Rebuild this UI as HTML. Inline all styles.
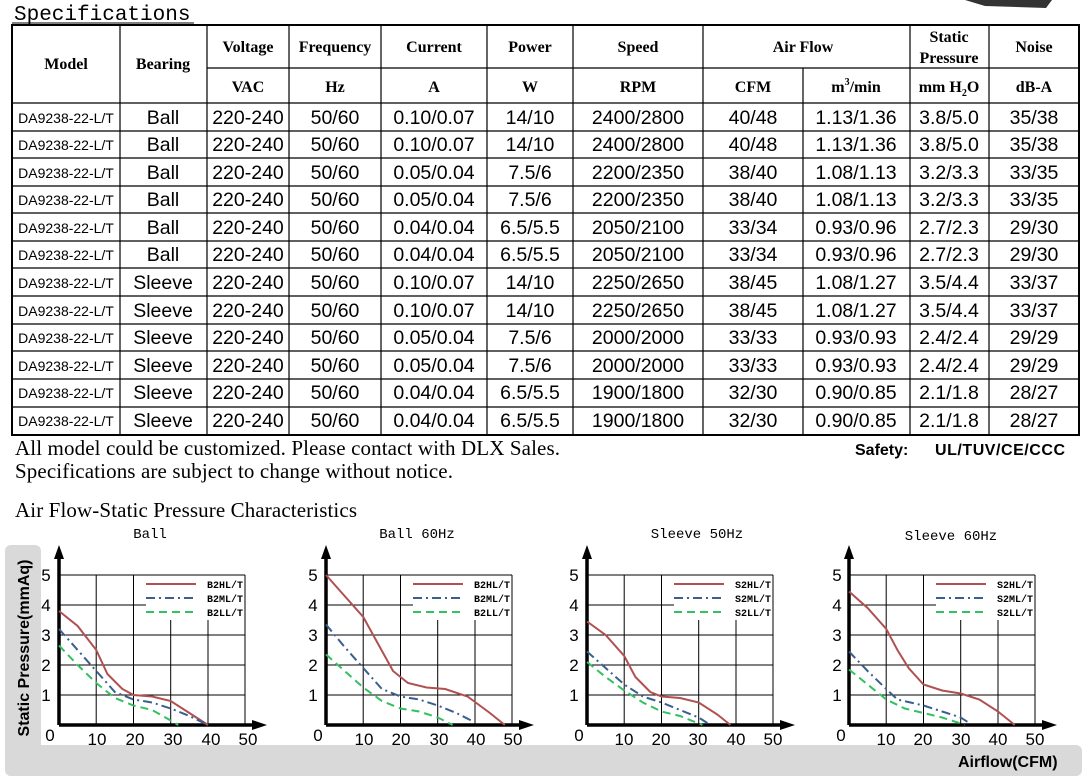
<!DOCTYPE html>
<html><head><meta charset="utf-8"><style>
html,body{margin:0;padding:0;background:#fff;}
svg{display:block;}
.h{font-family:"Liberation Serif",serif;font-weight:bold;font-size:16px;text-anchor:middle;}
.d{font-family:"Liberation Sans",sans-serif;font-size:19.5px;text-anchor:middle;}
.m{font-family:"Liberation Sans",sans-serif;font-size:14px;text-anchor:middle;}
.tk{font-family:"Liberation Sans",sans-serif;font-size:17px;text-anchor:middle;}
.lg{font-family:"Liberation Mono",monospace;font-weight:bold;font-size:10px;}
.ct{font-family:"Liberation Mono",monospace;font-size:14px;text-anchor:middle;}
</style></head><body>
<svg width="1088" height="782" viewBox="0 0 1088 782" xmlns="http://www.w3.org/2000/svg">
<polygon points="965,0 1052,0 1046,8 985,6" fill="#333"/>
<text x="14" y="20" font-family="Liberation Mono,monospace" font-size="21">Specifications</text>
<line x1="12" y1="23" x2="194" y2="23" stroke="#000" stroke-width="1"/>
<g stroke="#000" stroke-width="1.2" fill="none">
<rect x="12" y="25" width="1067" height="410" stroke-width="2"/>
<line x1="207" y1="68" x2="1079" y2="68"/>
<line x1="12" y1="103" x2="1079" y2="103"/>
<line x1="12" y1="131" x2="1079" y2="131"/><line x1="12" y1="158" x2="1079" y2="158"/>
<line x1="12" y1="186" x2="1079" y2="186"/><line x1="12" y1="213" x2="1079" y2="213"/>
<line x1="12" y1="241" x2="1079" y2="241"/><line x1="12" y1="268" x2="1079" y2="268"/>
<line x1="12" y1="296" x2="1079" y2="296"/><line x1="12" y1="324" x2="1079" y2="324"/>
<line x1="12" y1="351" x2="1079" y2="351"/><line x1="12" y1="379" x2="1079" y2="379"/>
<line x1="12" y1="407" x2="1079" y2="407"/>
<line x1="120" y1="25" x2="120" y2="435"/><line x1="207" y1="25" x2="207" y2="435"/>
<line x1="289" y1="25" x2="289" y2="435"/><line x1="381" y1="25" x2="381" y2="435"/>
<line x1="487" y1="25" x2="487" y2="435"/><line x1="573" y1="25" x2="573" y2="435"/>
<line x1="703" y1="25" x2="703" y2="435"/><line x1="803" y1="68" x2="803" y2="435"/>
<line x1="910" y1="25" x2="910" y2="435"/><line x1="989" y1="25" x2="989" y2="435"/>
</g>
<text class="h" x="66" y="69">Model</text><text class="h" x="163" y="69">Bearing</text>
<text class="h" x="248" y="52">Voltage</text><text class="h" x="335" y="52">Frequency</text>
<text class="h" x="434" y="52">Current</text><text class="h" x="530" y="52">Power</text>
<text class="h" x="638" y="52">Speed</text><text class="h" x="803" y="52">Air Flow</text>
<text class="h" x="949" y="42">Static</text><text class="h" x="949" y="63">Pressure</text>
<text class="h" x="1034" y="52">Noise</text>
<text class="h" x="248" y="92">VAC</text><text class="h" x="335" y="92">Hz</text>
<text class="h" x="434" y="92">A</text><text class="h" x="530" y="92">W</text>
<text class="h" x="638" y="92">RPM</text><text class="h" x="753" y="92">CFM</text>
<text class="h" x="856" y="92">m<tspan font-size="10" dy="-7">3</tspan><tspan dy="7">/min</tspan></text>
<text class="h" x="949" y="92">mm H<tspan font-size="10" dy="4">2</tspan><tspan dy="-4">O</tspan></text>
<text class="h" x="1034" y="92">dB-A</text>
<g>
<text class="m" x="66" y="123">DA9238-22-L/T</text><text class="d" x="163" y="124">Ball</text><text class="d" x="248" y="124">220-240</text><text class="d" x="335" y="124">50/60</text><text class="d" x="434" y="124">0.10/0.07</text><text class="d" x="530" y="124">14/10</text><text class="d" x="638" y="124">2400/2800</text><text class="d" x="753" y="124">40/48</text><text class="d" x="856" y="124">1.13/1.36</text><text class="d" x="949" y="124">3.8/5.0</text><text class="d" x="1034" y="124">35/38</text>
<text class="m" x="66" y="150">DA9238-22-L/T</text><text class="d" x="163" y="151">Ball</text><text class="d" x="248" y="151">220-240</text><text class="d" x="335" y="151">50/60</text><text class="d" x="434" y="151">0.10/0.07</text><text class="d" x="530" y="151">14/10</text><text class="d" x="638" y="151">2400/2800</text><text class="d" x="753" y="151">40/48</text><text class="d" x="856" y="151">1.13/1.36</text><text class="d" x="949" y="151">3.8/5.0</text><text class="d" x="1034" y="151">35/38</text>
<text class="m" x="66" y="178">DA9238-22-L/T</text><text class="d" x="163" y="179">Ball</text><text class="d" x="248" y="179">220-240</text><text class="d" x="335" y="179">50/60</text><text class="d" x="434" y="179">0.05/0.04</text><text class="d" x="530" y="179">7.5/6</text><text class="d" x="638" y="179">2200/2350</text><text class="d" x="753" y="179">38/40</text><text class="d" x="856" y="179">1.08/1.13</text><text class="d" x="949" y="179">3.2/3.3</text><text class="d" x="1034" y="179">33/35</text>
<text class="m" x="66" y="205">DA9238-22-L/T</text><text class="d" x="163" y="206">Ball</text><text class="d" x="248" y="206">220-240</text><text class="d" x="335" y="206">50/60</text><text class="d" x="434" y="206">0.05/0.04</text><text class="d" x="530" y="206">7.5/6</text><text class="d" x="638" y="206">2200/2350</text><text class="d" x="753" y="206">38/40</text><text class="d" x="856" y="206">1.08/1.13</text><text class="d" x="949" y="206">3.2/3.3</text><text class="d" x="1034" y="206">33/35</text>
<text class="m" x="66" y="233">DA9238-22-L/T</text><text class="d" x="163" y="234">Ball</text><text class="d" x="248" y="234">220-240</text><text class="d" x="335" y="234">50/60</text><text class="d" x="434" y="234">0.04/0.04</text><text class="d" x="530" y="234">6.5/5.5</text><text class="d" x="638" y="234">2050/2100</text><text class="d" x="753" y="234">33/34</text><text class="d" x="856" y="234">0.93/0.96</text><text class="d" x="949" y="234">2.7/2.3</text><text class="d" x="1034" y="234">29/30</text>
<text class="m" x="66" y="260">DA9238-22-L/T</text><text class="d" x="163" y="261">Ball</text><text class="d" x="248" y="261">220-240</text><text class="d" x="335" y="261">50/60</text><text class="d" x="434" y="261">0.04/0.04</text><text class="d" x="530" y="261">6.5/5.5</text><text class="d" x="638" y="261">2050/2100</text><text class="d" x="753" y="261">33/34</text><text class="d" x="856" y="261">0.93/0.96</text><text class="d" x="949" y="261">2.7/2.3</text><text class="d" x="1034" y="261">29/30</text>
<text class="m" x="66" y="288">DA9238-22-L/T</text><text class="d" x="163" y="289">Sleeve</text><text class="d" x="248" y="289">220-240</text><text class="d" x="335" y="289">50/60</text><text class="d" x="434" y="289">0.10/0.07</text><text class="d" x="530" y="289">14/10</text><text class="d" x="638" y="289">2250/2650</text><text class="d" x="753" y="289">38/45</text><text class="d" x="856" y="289">1.08/1.27</text><text class="d" x="949" y="289">3.5/4.4</text><text class="d" x="1034" y="289">33/37</text>
<text class="m" x="66" y="316">DA9238-22-L/T</text><text class="d" x="163" y="317">Sleeve</text><text class="d" x="248" y="317">220-240</text><text class="d" x="335" y="317">50/60</text><text class="d" x="434" y="317">0.10/0.07</text><text class="d" x="530" y="317">14/10</text><text class="d" x="638" y="317">2250/2650</text><text class="d" x="753" y="317">38/45</text><text class="d" x="856" y="317">1.08/1.27</text><text class="d" x="949" y="317">3.5/4.4</text><text class="d" x="1034" y="317">33/37</text>
<text class="m" x="66" y="343">DA9238-22-L/T</text><text class="d" x="163" y="344">Sleeve</text><text class="d" x="248" y="344">220-240</text><text class="d" x="335" y="344">50/60</text><text class="d" x="434" y="344">0.05/0.04</text><text class="d" x="530" y="344">7.5/6</text><text class="d" x="638" y="344">2000/2000</text><text class="d" x="753" y="344">33/33</text><text class="d" x="856" y="344">0.93/0.93</text><text class="d" x="949" y="344">2.4/2.4</text><text class="d" x="1034" y="344">29/29</text>
<text class="m" x="66" y="371">DA9238-22-L/T</text><text class="d" x="163" y="372">Sleeve</text><text class="d" x="248" y="372">220-240</text><text class="d" x="335" y="372">50/60</text><text class="d" x="434" y="372">0.05/0.04</text><text class="d" x="530" y="372">7.5/6</text><text class="d" x="638" y="372">2000/2000</text><text class="d" x="753" y="372">33/33</text><text class="d" x="856" y="372">0.93/0.93</text><text class="d" x="949" y="372">2.4/2.4</text><text class="d" x="1034" y="372">29/29</text>
<text class="m" x="66" y="398">DA9238-22-L/T</text><text class="d" x="163" y="399">Sleeve</text><text class="d" x="248" y="399">220-240</text><text class="d" x="335" y="399">50/60</text><text class="d" x="434" y="399">0.04/0.04</text><text class="d" x="530" y="399">6.5/5.5</text><text class="d" x="638" y="399">1900/1800</text><text class="d" x="753" y="399">32/30</text><text class="d" x="856" y="399">0.90/0.85</text><text class="d" x="949" y="399">2.1/1.8</text><text class="d" x="1034" y="399">28/27</text>
<text class="m" x="66" y="426">DA9238-22-L/T</text><text class="d" x="163" y="427">Sleeve</text><text class="d" x="248" y="427">220-240</text><text class="d" x="335" y="427">50/60</text><text class="d" x="434" y="427">0.04/0.04</text><text class="d" x="530" y="427">6.5/5.5</text><text class="d" x="638" y="427">1900/1800</text><text class="d" x="753" y="427">32/30</text><text class="d" x="856" y="427">0.90/0.85</text><text class="d" x="949" y="427">2.1/1.8</text><text class="d" x="1034" y="427">28/27</text>
</g>
<text x="15" y="455" font-family="Liberation Serif,serif" font-size="21" textLength="545">All model could be customized. Please contact with DLX Sales.</text>
<text x="15" y="478" font-family="Liberation Serif,serif" font-size="21" textLength="438">Specifications are subject to change without notice.</text>
<text x="855" y="455" font-family="Liberation Sans,sans-serif" font-weight="bold" font-size="16">Safety:</text>
<text x="935" y="455" font-family="Liberation Sans,sans-serif" font-weight="bold" font-size="16" textLength="130">UL/TUV/CE/CCC</text>
<text x="15" y="517" font-family="Liberation Serif,serif" font-size="21" textLength="342">Air Flow-Static Pressure Characteristics</text>
<rect x="5" y="545" width="36" height="231" rx="6" fill="#d9d9d9"/>
<rect x="5" y="745" width="1077" height="31" rx="6" fill="#d9d9d9"/>
<text transform="translate(29,648) rotate(-90)" text-anchor="middle" font-family="Liberation Sans,sans-serif" font-weight="bold" font-size="16">Static Pressure(mmAq)</text>
<text x="958" y="767" font-family="Liberation Sans,sans-serif" font-weight="bold" font-size="16">Airflow(CFM)</text>
<text class="ct" x="150" y="538">Ball</text><text class="ct" x="417" y="538">Ball 60Hz</text>
<text class="ct" x="697" y="538">Sleeve 50Hz</text><text class="ct" x="951" y="540">Sleeve 60Hz</text>
<defs>
<g id="grid">
<g stroke="#000" stroke-width="1" fill="none">
<line x1="0" y1="-150" x2="186" y2="-150"/><line x1="0" y1="-120" x2="87" y2="-120"/>
<line x1="0" y1="-90" x2="186" y2="-90"/><line x1="0" y1="-60" x2="186" y2="-60"/><line x1="0" y1="-30" x2="186" y2="-30"/>
<line x1="37.2" y1="-150" x2="37.2" y2="0"/><line x1="74.5" y1="-150" x2="74.5" y2="0"/>
<line x1="111.7" y1="-105" x2="111.7" y2="0"/><line x1="149" y1="-105" x2="149" y2="0"/>
<line x1="186" y1="-150" x2="186" y2="0"/>
</g>
<g stroke="#000" stroke-width="3.5"><line x1="0" y1="0" x2="0" y2="-168"/><line x1="0" y1="0" x2="195" y2="0"/></g>
<polygon points="-5,-166 5,-166 0,-180" fill="#000"/><polygon points="193,-5 193,5 208,0" fill="#000"/>
<line x1="87" y1="-141" x2="137" y2="-141" stroke="#b05050" stroke-width="2"/>
<line x1="87" y1="-127" x2="137" y2="-127" stroke="#3a5f8f" stroke-width="2" stroke-dasharray="9,4,2,4"/>
<line x1="87" y1="-113" x2="137" y2="-113" stroke="#33c060" stroke-width="2" stroke-dasharray="8,5"/>
</g>
</defs>
<g class="tk">
<text x="46" y="581">5</text><text x="46" y="611">4</text><text x="46" y="641">3</text><text x="46" y="671">2</text><text x="46" y="701">1</text><text x="50" y="741">0</text>
<text x="97" y="745">10</text><text x="135" y="745">20</text><text x="173" y="745">30</text><text x="211" y="745">40</text><text x="248" y="745">50</text>
<text x="313" y="581">5</text><text x="313" y="611">4</text><text x="313" y="641">3</text><text x="313" y="671">2</text><text x="313" y="701">1</text><text x="318" y="741">0</text>
<text x="364" y="745">10</text><text x="401" y="745">20</text><text x="439" y="745">30</text><text x="476" y="745">40</text><text x="513" y="745">50</text>
<text x="574" y="581">5</text><text x="574" y="611">4</text><text x="574" y="641">3</text><text x="574" y="671">2</text><text x="574" y="701">1</text><text x="579" y="741">0</text>
<text x="624" y="745">10</text><text x="661" y="745">20</text><text x="698" y="745">30</text><text x="736" y="745">40</text><text x="773" y="745">50</text>
<text x="837" y="581">5</text><text x="837" y="611">4</text><text x="837" y="641">3</text><text x="837" y="671">2</text><text x="837" y="701">1</text><text x="841" y="741">0</text>
<text x="886" y="745">10</text><text x="923" y="745">20</text><text x="961" y="745">30</text><text x="998" y="745">40</text><text x="1035" y="745">50</text>
</g>
<use href="#grid" x="59" y="725"/><use href="#grid" x="326" y="725"/><use href="#grid" x="587" y="725"/><use href="#grid" x="849" y="725"/>
<g class="lg">
<text x="207" y="588">B2HL/T</text><text x="207" y="602">B2ML/T</text><text x="207" y="616">B2LL/T</text>
<text x="474" y="588">B2HL/T</text><text x="474" y="602">B2ML/T</text><text x="474" y="616">B2LL/T</text>
<text x="735" y="588">S2HL/T</text><text x="735" y="602">S2ML/T</text><text x="735" y="616">S2LL/T</text>
<text x="997" y="588">S2HL/T</text><text x="997" y="602">S2ML/T</text><text x="997" y="616">S2LL/T</text>
</g>
<g fill="none" stroke-width="2">
<g transform="translate(59,725) scale(3.725,-30)">
<polyline vector-effect="non-scaling-stroke" stroke="#b05050" points="0,3.8 5,3.3 10,2.5 13,1.7 17,1.2 20,1.0 25,0.95 30,0.8 35,0.4 40,0"/>
<polyline vector-effect="non-scaling-stroke" stroke="#3a5f8f" stroke-dasharray="9,4,2,4" points="0,3.2 5,2.5 10,1.8 15,1.1 20,0.85 25,0.75 30,0.55 35,0.3 40,0"/>
<polyline vector-effect="non-scaling-stroke" stroke="#33c060" stroke-dasharray="8,5" points="0,2.65 5,2.0 10,1.4 15,0.9 20,0.65 25,0.5 30,0.15 32,0"/>
</g>
<g transform="translate(326,725) scale(3.725,-30)">
<polyline vector-effect="non-scaling-stroke" stroke="#b05050" points="0,5 5,4.3 10,3.6 14,2.7 18,1.8 22,1.4 27,1.25 32,1.2 38,0.95 44,0.4 48,0"/>
<polyline vector-effect="non-scaling-stroke" stroke="#3a5f8f" stroke-dasharray="9,4,2,4" points="0,3.35 5,2.6 10,1.9 15,1.2 20,0.95 25,0.85 30,0.65 35,0.4 39,0.15"/>
<polyline vector-effect="non-scaling-stroke" stroke="#33c060" stroke-dasharray="8,5" points="0,2.35 5,1.8 10,1.25 15,0.8 20,0.55 25,0.45 30,0.25 34,0"/>
</g>
<g transform="translate(587,725) scale(3.725,-30)">
<polyline vector-effect="non-scaling-stroke" stroke="#b05050" points="0,3.45 5,3.0 10,2.3 13,1.6 17,1.1 20,0.95 25,0.9 30,0.75 35,0.35 38.5,0"/>
<polyline vector-effect="non-scaling-stroke" stroke="#3a5f8f" stroke-dasharray="9,4,2,4" points="0,2.45 5,1.9 10,1.35 15,0.95 20,0.75 25,0.5 30,0.25 32.5,0.05"/>
<polyline vector-effect="non-scaling-stroke" stroke="#33c060" stroke-dasharray="8,5" points="0,2.1 5,1.6 10,1.15 15,0.75 20,0.45 25,0.3 31,0"/>
</g>
<g transform="translate(849,725) scale(3.725,-30)">
<polyline vector-effect="non-scaling-stroke" stroke="#b05050" points="0,4.45 5,3.9 10,3.2 13,2.5 16,1.9 20,1.35 25,1.15 30,1.05 35,0.85 40,0.45 44.5,0"/>
<polyline vector-effect="non-scaling-stroke" stroke="#3a5f8f" stroke-dasharray="9,4,2,4" points="0,2.45 5,1.8 10,1.2 13,0.85 20,0.65 25,0.45 30,0.25 32.5,0.05"/>
<polyline vector-effect="non-scaling-stroke" stroke="#33c060" stroke-dasharray="8,5" points="0,1.85 5,1.35 10,0.85 15,0.55 20,0.4 25,0.25 30,0.05 31,0"/>
</g>
</g>
</svg>
</body></html>
